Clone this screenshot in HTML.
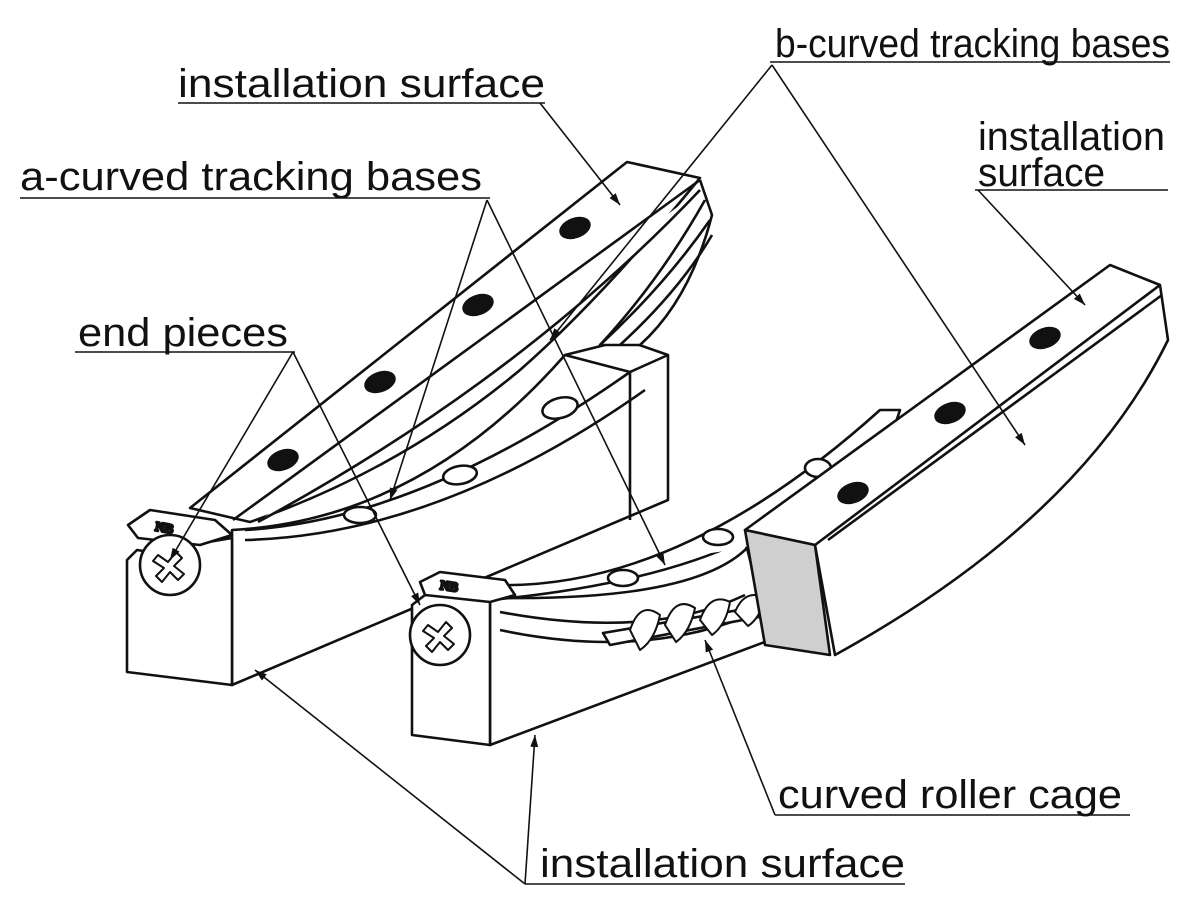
<!DOCTYPE html>
<html><head><meta charset="utf-8"><style>
html,body{margin:0;padding:0;background:#fff;}
svg{display:block;}
text{font-family:"Liberation Sans",sans-serif;font-size:40px;fill:#111;}
</style></head><body>
<svg width="1200" height="897" viewBox="0 0 1200 897" xmlns="http://www.w3.org/2000/svg">
<defs>
<marker id="a" viewBox="0 0 12 8" refX="12" refY="4" markerWidth="12" markerHeight="8" markerUnits="userSpaceOnUse" orient="auto">
<path d="M0,0 L12,4 L0,8 Z" fill="#111"/></marker>
</defs>
<g fill="#fff" stroke="#111" stroke-width="2.6" stroke-linejoin="round">
<path d="M232,530 Q420,520 565,355 L625,340 L668,355 L668,500 L232,685 Z"/>
<path d="M565,355 L630,372 L668,355 M630,372 L630,520"/>
<path d="M190,508 L627,162 L700,178 Q600,300 520,370 Q400,470 250,522 Z"/>
<path d="M233,520 L700,180"/>
<path d="M258,522 Q520,380 700,190"/>
<path d="M700,180 L712,215 Q690,300 640,345 L600,345 Q660,280 705,200"/>
<path d="M600,345 Q665,285 710,220" fill="none"/>
<path d="M620,345 Q680,290 712,235" fill="none"/>
<path d="M245,530 Q420,520 630,372" fill="none"/>
<path d="M245,540 Q440,535 645,390" fill="none"/>
<path d="M127,560 L137,550 L150,552 L232,538 L232,685 L127,672 Z"/>
<path d="M128,525 L150,510 L215,520 L232,535 L200,545 L138,538 Z"/>
<text x="155" y="533" style="font-size:13px;font-weight:bold;font-family:'Liberation Serif',serif" transform="rotate(10 170 530)">NB</text>
<circle cx="170" cy="565" r="30"/>
<path d="M158,555 L168,562 L176,552 L182,558 L174,566 L184,574 L178,580 L170,572 L162,582 L156,576 L164,568 L153,561 Z" stroke-width="2"/>
<g fill="#111" stroke="#111">
<ellipse cx="575" cy="228" rx="15" ry="9" transform="rotate(-20 575 228)"/>
<ellipse cx="478" cy="305" rx="15" ry="9" transform="rotate(-20 478 305)"/>
<ellipse cx="380" cy="382" rx="15" ry="9" transform="rotate(-20 380 382)"/>
<ellipse cx="283" cy="460" rx="15" ry="9" transform="rotate(-20 283 460)"/>
</g>
<ellipse cx="560" cy="408" rx="18" ry="10" transform="rotate(-15 560 408)"/>
<ellipse cx="460" cy="475" rx="17" ry="9" transform="rotate(-10 460 475)"/>
<ellipse cx="360" cy="515" rx="16" ry="8"/>

<path d="M490,600 Q650,585 745,540 L770,640 L490,745 Z"/>
<path d="M495,585 Q680,590 880,410 L900,410 L895,425 Q800,560 745,548"/>
<path d="M505,598 Q700,600 750,545" fill="none"/>
<path d="M500,612 Q650,640 745,595" fill="none"/>
<path d="M500,630 Q640,660 750,615" fill="none"/>
<ellipse cx="718" cy="537" rx="15" ry="8"/>
<ellipse cx="623" cy="578" rx="15" ry="8"/>
<ellipse cx="818" cy="468" rx="13" ry="9"/>
<path d="M603,633 L780,603 L785,612 L610,645 Z"/>
<g stroke-width="2">
<path d="M630,630 Q640,600 660,615 Q655,640 640,650 Z"/>
<path d="M665,625 Q675,595 695,608 Q690,632 676,642 Z"/>
<path d="M700,620 Q710,592 730,602 Q726,625 712,635 Z"/>
<path d="M735,612 Q745,588 765,598 Q760,618 748,626 Z"/>
</g>
<path d="M745,530 L1110,265 L1160,285 L1168,340 Q1080,520 835,655 L815,545 Z"/>
<path d="M815,545 L1160,285" fill="none"/>
<path d="M828,540 L1162,295" fill="none"/>
<path d="M745,530 L815,545 L830,655 L765,645 Z" fill="#cfcfcf"/>
<g fill="#111" stroke="#111">
<ellipse cx="1045" cy="338" rx="15" ry="9" transform="rotate(-20 1045 338)"/>
<ellipse cx="950" cy="413" rx="15" ry="9" transform="rotate(-20 950 413)"/>
<ellipse cx="853" cy="493" rx="15" ry="9" transform="rotate(-20 853 493)"/>
</g>
<path d="M412,605 L425,595 L490,598 L490,745 L412,735 Z"/>
<path d="M420,582 L440,572 L505,580 L515,595 L490,602 L425,595 Z"/>
<text x="440" y="592" style="font-size:13px;font-weight:bold;font-family:'Liberation Serif',serif" transform="rotate(8 460 588)">NB</text>
<circle cx="440" cy="635" r="30"/>
<path d="M428,625 L438,632 L446,622 L452,628 L444,636 L454,644 L448,650 L440,642 L432,652 L426,646 L434,638 L423,631 Z" stroke-width="2"/>
</g>

<text x="178" y="97" textLength="367" lengthAdjust="spacingAndGlyphs">installation surface</text>
<text x="775" y="57" textLength="395" lengthAdjust="spacingAndGlyphs">b-curved tracking bases</text>
<text x="978" y="150" textLength="187" lengthAdjust="spacingAndGlyphs">installation</text>
<text x="978" y="186" textLength="127" lengthAdjust="spacingAndGlyphs">surface</text>
<text x="20" y="190" textLength="462" lengthAdjust="spacingAndGlyphs">a-curved tracking bases</text>
<text x="78" y="346" textLength="210" lengthAdjust="spacingAndGlyphs">end pieces</text>
<text x="778" y="808" textLength="344" lengthAdjust="spacingAndGlyphs">curved roller cage</text>
<text x="540" y="877" textLength="365" lengthAdjust="spacingAndGlyphs">installation surface</text>

<g stroke="#111" stroke-width="1.6" fill="none">
<path d="M178,103 H545"/>
<path d="M770,62 H1170"/>
<path d="M975,190 H1168"/>
<path d="M20,198 H490"/>
<path d="M75,352 H295"/>
<path d="M775,815 H1130"/>
<path d="M525,884 H905"/>
<path d="M540,103 L620,205" marker-end="url(#a)"/>
<path d="M772,65 L550,340" marker-end="url(#a)"/>
<path d="M772,65 L1025,445" marker-end="url(#a)"/>
<path d="M978,190 L1085,305" marker-end="url(#a)"/>
<path d="M487,200 L390,500" marker-end="url(#a)"/>
<path d="M487,200 L665,565" marker-end="url(#a)"/>
<path d="M293,352 L170,560" marker-end="url(#a)"/>
<path d="M293,352 L420,605" marker-end="url(#a)"/>
<path d="M775,815 L705,640" marker-end="url(#a)"/>
<path d="M525,884 L255,670" marker-end="url(#a)"/>
<path d="M525,884 L535,735" marker-end="url(#a)"/>
</g>
</svg>
</body></html>
